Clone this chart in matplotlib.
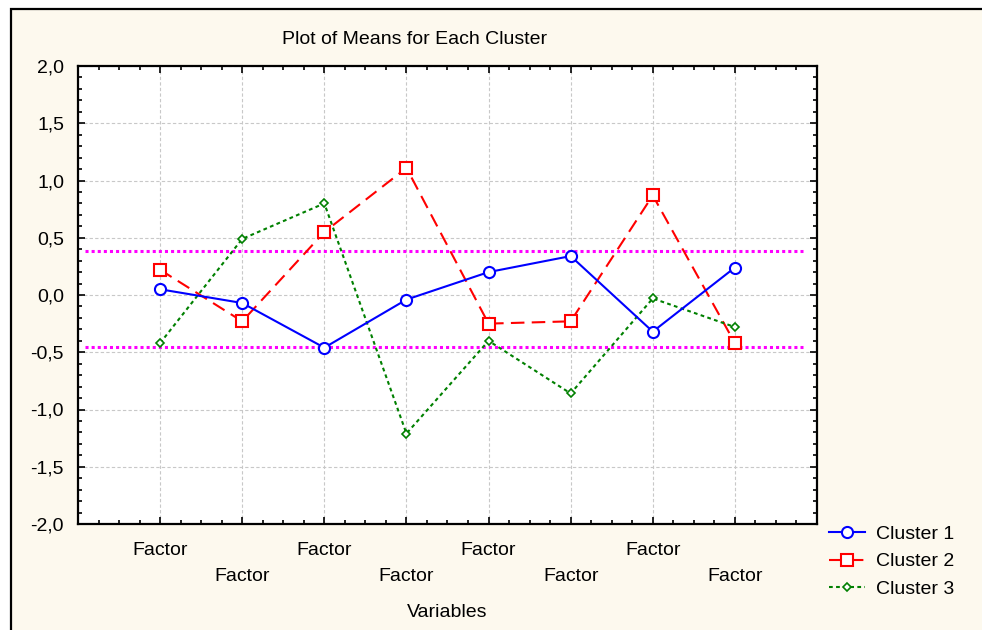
import numpy as np
import matplotlib
matplotlib.use("Agg")
import matplotlib.pyplot as plt
from matplotlib.patches import Rectangle
from matplotlib.ticker import MultipleLocator, FixedLocator

plt.rcParams['font.family'] = ['Liberation Sans', 'DejaVu Sans']

# data
variables = ['Factor'] * 8
cluster1 = [0.05, -0.07, -0.46, -0.04, 0.20, 0.34, -0.32, 0.24]
cluster2 = [0.22, -0.23, 0.55, 1.11, -0.25, -0.23, 0.87, -0.42]
cluster3 = [-0.42, 0.49, 0.80, -1.21, -0.40, -0.86, -0.03, -0.28]
ref_lines = [0.385, -0.455]
yticks = [-2.0, -1.5, -1.0, -0.5, 0.0, 0.5, 1.0, 1.5, 2.0]

W, H = 982, 630
fs = 14
fig = plt.figure(figsize=(W / 100, H / 100), dpi=100)
fig.patch.set_facecolor('white')
cream = '#fdf9ee'
# outer frame of the exported window
fig.patches.append(Rectangle((11 / W, -0.05), 1.1, 1 - 9.5 / H + 0.05,
                             transform=fig.transFigure, facecolor=cream,
                             edgecolor='black', linewidth=1.6, zorder=-10))

ax = fig.add_axes([78 / W, 1 - 524 / H, (817 - 78) / W, (524 - 66) / H])
ax.set_facecolor('white')

x = np.arange(1, len(variables) + 1)

for yv in ref_lines:
    ax.hlines(yv, 0.085, 8.83, colors='#ff00ff', linewidth=2.2,
              linestyles=(0, (1, 1)), zorder=2)

ax.plot(x, cluster1, color='#0000ff', linewidth=1.5, marker='o', markersize=8,
        markerfacecolor='white', markeredgecolor='#0000ff', markeredgewidth=1.5,
        label='Cluster 1', zorder=4)
ax.plot(x, cluster2, color='#ff0000', linewidth=1.5, linestyle=(0, (6.5, 3.5)),
        marker='s', markersize=8, markerfacecolor='white',
        markeredgecolor='#ff0000', markeredgewidth=1.5, label='Cluster 2', zorder=3)
ax.plot(x, cluster3, color='#008000', linewidth=1.5, linestyle=(0, (1.8, 1.6)),
        marker='D', markersize=4.5, markerfacecolor='white',
        markeredgecolor='#008000', markeredgewidth=1.2, label='Cluster 3', zorder=3)

ax.set_xlim(0, 9)
ax.set_ylim(-2, 2)
ax.xaxis.set_major_locator(FixedLocator(x))
ax.xaxis.set_minor_locator(MultipleLocator(0.25))
ax.set_xticklabels([v if i % 2 == 0 else '\n' + v for i, v in enumerate(variables)])
for lbl in ax.get_xticklabels():
    lbl.set_linespacing(1.68)
ax.set_yticks(yticks)
ax.set_yticklabels([('%.1f' % v).replace('.', ',') for v in yticks])
ax.yaxis.set_minor_locator(MultipleLocator(0.1))

ax.grid(True, which='major', color='#c8c8c8', linestyle=(0, (3, 2)), linewidth=0.8)
ax.set_axisbelow(True)

for s in ax.spines.values():
    s.set_linewidth(1.6)
ax.tick_params(which='both', direction='in', top=True, right=True, width=1.2,
               labelsize=fs)
ax.tick_params(which='major', length=5)
ax.tick_params(which='minor', length=3)
ax.tick_params(axis='y', which='major', pad=10)
ax.tick_params(axis='x', which='major', pad=13)

ax.set_xlabel('Variables', fontsize=fs, labelpad=14)
fig.text(415 / W, 1 - 39 / H, 'Plot of Means for Each Cluster', fontsize=fs,
         ha='center', va='center')

ax.legend(loc='upper left', bbox_to_anchor=(829 / W, 1 - 525 / H),
          bbox_transform=fig.transFigure, frameon=False, fontsize=fs,
          handlelength=1.85, handletextpad=0.55, labelspacing=0.52,
          borderaxespad=0, borderpad=0)

fig.savefig('out.png', dpi=100, facecolor=fig.get_facecolor())
